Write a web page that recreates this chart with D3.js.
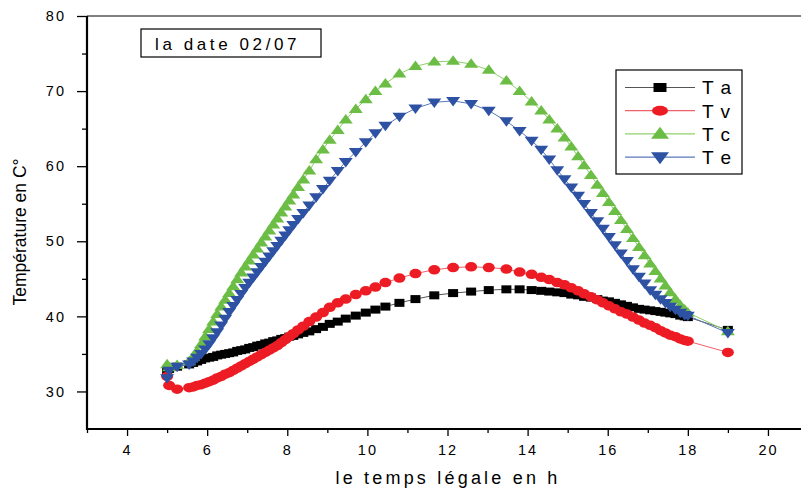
<!DOCTYPE html>
<html>
<head>
<meta charset="utf-8">
<script src="https://cdn.jsdelivr.net/npm/d3@7"></script>
<style>
  body { margin: 0; background: #fff; }
  svg { display: block; font-family: 'Liberation Sans', Arial, sans-serif; }
</style>
</head>
<body>
<svg width="801" height="488"></svg>
<script>
const svg = d3.select('svg')

// heures (temps légal) communes aux quatre séries
const hours = [5.0, 5.05, 5.25, 5.55, 5.65, 5.75, 5.85, 5.95, 6.05, 6.15, 6.25, 6.35, 6.45, 6.55, 6.65, 6.75,
    6.85, 6.95, 7.05, 7.15, 7.25, 7.35, 7.45, 7.55, 7.65, 7.75, 7.85, 7.95, 8.05, 8.15, 8.27, 8.4, 8.55, 8.72,
    8.89, 9.06, 9.26, 9.46, 9.71, 9.96, 10.2, 10.45, 10.8, 11.2, 11.67, 12.14, 12.59, 13.03, 13.47, 13.8,
    14.1, 14.34, 14.54, 14.74, 14.92, 15.09, 15.26, 15.41, 15.58, 15.74, 15.88, 16.03, 16.18, 16.33, 16.48,
    16.63, 16.78, 16.92, 17.06, 17.19, 17.32, 17.44, 17.56, 17.69, 17.81, 17.92, 18.0, 19.0]

const Ta = [32.8, 33.0, 33.3, 33.6, 33.8, 34.0, 34.2, 34.4, 34.5, 34.6, 34.8, 34.9, 35.0, 35.1, 35.2, 35.4,
    35.5, 35.6, 35.8, 35.9, 36.1, 36.2, 36.4, 36.5, 36.7, 36.8, 37.0, 37.1, 37.3, 37.4, 37.6, 37.8, 38.0, 38.3,
    38.6, 39.0, 39.3, 39.7, 40.1, 40.5, 40.9, 41.3, 41.8, 42.3, 42.8, 43.1, 43.3, 43.5, 43.6, 43.6,
    43.5, 43.4, 43.3, 43.2, 43.1, 42.9, 42.8, 42.6, 42.5, 42.3, 42.1, 42.0, 41.8, 41.6, 41.4,
    41.2, 41.0, 40.9, 40.8, 40.7, 40.6, 40.5, 40.4, 40.3, 40.1, 40.0, 39.9, 38.2]

const Tv = [32.0, 30.8, 30.3, 30.5, 30.6, 30.8, 30.9, 31.1, 31.3, 31.5, 31.8, 32.0, 32.3, 32.5, 32.8, 33.1,
    33.4, 33.7, 34.0, 34.3, 34.6, 34.9, 35.2, 35.5, 35.8, 36.1, 36.5, 36.9, 37.3, 37.7, 38.2, 38.7, 39.3, 39.9,
    40.5, 41.2, 41.8, 42.3, 42.9, 43.4, 43.9, 44.5, 45.1, 45.7, 46.2, 46.5, 46.6, 46.5, 46.3, 45.9,
    45.6, 45.2, 44.9, 44.5, 44.2, 43.8, 43.4, 43.0, 42.6, 42.2, 41.8, 41.4, 41.0, 40.6, 40.3,
    39.9, 39.5, 39.1, 38.8, 38.5, 38.1, 37.8, 37.5, 37.3, 37.0, 36.8, 36.7, 35.2]

const Tc = [33.6, 33.2, 33.5, 34.0, 34.6, 35.4, 36.3, 37.3, 38.3, 39.3, 40.3, 41.3, 42.2, 43.1, 44.0, 44.9,
    45.8, 46.6, 47.4, 48.2, 49.0, 49.8, 50.6, 51.4, 52.2, 53.0, 53.8, 54.6, 55.4, 56.2, 57.2, 58.2, 59.4, 60.9,
    62.2, 63.5, 64.8, 66.2, 67.6, 68.9, 70.0, 71.0, 72.3, 73.3, 73.9, 74.0, 73.6, 72.8, 71.4, 70.0,
    68.6, 67.4, 66.2, 65.0, 63.8, 62.6, 61.3, 60.1, 58.8, 57.5, 56.4, 55.2, 54.0, 52.8, 51.6,
    50.4, 49.2, 48.1, 47.0, 46.0, 45.0, 44.1, 43.2, 42.3, 41.5, 40.9, 40.5, 38.0]

const Te = [31.8, 32.8, 33.3, 33.6, 34.0, 34.5, 35.0, 35.6, 36.3, 37.1, 37.9, 38.8, 39.7, 40.6, 41.4, 42.2,
    43.0, 43.8, 44.5, 45.2, 45.9, 46.6, 47.3, 48.0, 48.7, 49.4, 50.1, 50.8, 51.5, 52.2, 53.0, 53.8, 54.8, 55.9,
    57.0, 58.1, 59.4, 60.6, 61.9, 63.2, 64.4, 65.4, 66.6, 67.7, 68.5, 68.7, 68.3, 67.4, 66.0, 64.7,
    63.4, 62.2, 60.9, 59.5, 58.3, 57.2, 56.1, 55.0, 53.8, 52.7, 51.7, 50.6, 49.5, 48.4, 47.4,
    46.3, 45.3, 44.4, 43.5, 42.9, 42.3, 41.8, 41.3, 40.9, 40.5, 40.2, 40.1, 37.8]

const seriesNames = ['Ta', 'Tv', 'Tc', 'Te']
const seriesLabels = ['T a', 'T v', 'T c', 'T e']
const seriesValues = [Ta, Tv, Tc, Te]
const seriesColors = ['#000000', '#ed1c24', '#6cbd45', '#2e52a3']
const seriesLineColors = ['#555555', '#f0606a', '#8fd06a', '#5a78bb']
const seriesShapes = ['square', 'circle', 'up', 'down']

const xMajor = [4, 6, 8, 10, 12, 14, 16, 18, 20]
const xMinor = [3, 5, 7, 9, 11, 13, 15, 17, 19, 21]
const yMajor = [30, 40, 50, 60, 70, 80]
const yMinor = [35, 45, 55, 65, 75]

const x = d3.scaleLinear().domain([3, 21]).range([87, 808])
const y = d3.scaleLinear().domain([25, 80]).range([429, 16])

// marker path, centred on 0,0
const marker = (shape, w, h) => {
    if (shape === 'square') return `M${-w / 2},${-h / 2}h${w}v${h}h${-w}Z`
    if (shape === 'circle') return `M${-w / 2},0a${w / 2},${h / 2} 0 1,0 ${w},0a${w / 2},${h / 2} 0 1,0 ${-w},0Z`
    if (shape === 'up') return `M0,${-h * 0.6}L${w / 2},${h * 0.4}L${-w / 2},${h * 0.4}Z`
    return `M0,${h * 0.6}L${w / 2},${-h * 0.4}L${-w / 2},${-h * 0.4}Z`
}
const markerSize = {
    square: [10, 8],
    circle: [12, 9.5],
    up: [14, 9.5],
    down: [14, 9.5]
}

// frame
svg.append('line')
    .attr('x1', x(3)).attr('x2', 801)
    .attr('y1', y(80)).attr('y2', y(80))
    .attr('stroke', '#000').attr('stroke-width', 1)

// axes
const styleAxis = g => {
    g.select('.domain').remove()
    g.selectAll('.tick line').attr('stroke', '#000').attr('stroke-width', 1.3)
    g.selectAll('.tick text')
        .attr('fill', '#000')
        .style('font-size', '14.5px')
        .style('letter-spacing', '2px')
}

svg.append('g')
    .attr('transform', `translate(${x(3)},0)`)
    .call(d3.axisLeft(y).tickValues(yMajor).tickSize(10).tickPadding(11).tickFormat(d3.format('d')))
    .call(styleAxis)
svg.append('g')
    .attr('transform', `translate(${x(3)},0)`)
    .call(d3.axisLeft(y).tickValues(yMinor).tickSize(5).tickFormat(''))
    .call(styleAxis)

svg.append('g')
    .attr('transform', `translate(0,${y(25)})`)
    .call(d3.axisBottom(x).tickValues(xMajor).tickSize(7).tickPadding(9).tickFormat(d3.format('d')))
    .call(styleAxis)
svg.append('g')
    .attr('transform', `translate(0,${y(25)})`)
    .call(d3.axisBottom(x).tickValues(xMinor).tickSize(4).tickFormat(''))
    .call(styleAxis)

svg.append('line')
    .attr('x1', x(3)).attr('x2', x(3))
    .attr('y1', y(80)).attr('y2', y(25) + 1)
    .attr('stroke', '#000').attr('stroke-width', 2.2)
svg.append('line')
    .attr('x1', x(3) - 1).attr('x2', 801)
    .attr('y1', y(25)).attr('y2', y(25))
    .attr('stroke', '#000').attr('stroke-width', 2.2)

// axis titles
svg.append('text')
    .attr('x', 448).attr('y', 484)
    .attr('text-anchor', 'middle')
    .style('font-size', '18px')
    .style('letter-spacing', '3.2px')
    .text('le temps légale en h')

svg.append('text')
    .attr('transform', 'translate(26,232) rotate(-90)')
    .attr('text-anchor', 'middle')
    .style('font-size', '17.5px')
    .text('Température en C°')

// series
const line = d3.line()
    .x((d, i) => x(hours[i]))
    .y(d => y(d))

seriesValues.forEach((vals, k) => {
    const g = svg.append('g').attr('class', 'series-' + seriesNames[k])
    g.append('path')
        .datum(vals)
        .attr('d', line)
        .attr('fill', 'none')
        .attr('stroke', seriesLineColors[k])
        .attr('stroke-width', 1)
    const [w, h] = markerSize[seriesShapes[k]]
    g.selectAll('path.mark')
        .data(vals)
        .enter().append('path')
            .attr('class', 'mark')
            .attr('transform', (d, i) => `translate(${x(hours[i])},${y(d)})`)
            .attr('d', marker(seriesShapes[k], w, h))
            .attr('fill', seriesColors[k])
})

// date box
const dateBox = svg.append('g').attr('transform', 'translate(141,29)')
dateBox.append('rect')
    .attr('width', 180).attr('height', 28)
    .attr('fill', '#fff').attr('stroke', '#000').attr('stroke-width', 1.2)
dateBox.append('text')
    .attr('x', 14).attr('y', 21)
    .style('font-size', '17px')
    .style('letter-spacing', '3.6px')
    .text('la date 02/07')

// legend
const legend = svg.append('g').attr('transform', 'translate(616,70)')
legend.append('rect')
    .attr('width', 126).attr('height', 104)
    .attr('fill', '#fff').attr('stroke', '#000').attr('stroke-width', 1.2)

const legendMarker = {
    square: [13, 9],
    circle: [16, 10],
    up: [18, 12],
    down: [18, 12]
}

const items = legend.selectAll('g.item')
    .data(seriesNames)
    .enter().append('g')
        .attr('class', 'item')
        .attr('transform', (d, i) => `translate(0,${17.5 + i * 23.2})`)

items.append('line')
    .attr('x1', 9).attr('x2', 79)
    .attr('stroke', (d, i) => seriesLineColors[i])
    .attr('stroke-width', 1.2)
items.append('path')
    .attr('transform', 'translate(44,0)')
    .attr('d', (d, i) => marker(seriesShapes[i], ...legendMarker[seriesShapes[i]]))
    .attr('fill', (d, i) => seriesColors[i])
items.append('text')
    .attr('x', 86).attr('dy', '0.36em')
    .style('font-size', '19px')
    .style('letter-spacing', '1px')
    .text((d, i) => seriesLabels[i])
</script>
</body>
</html>
